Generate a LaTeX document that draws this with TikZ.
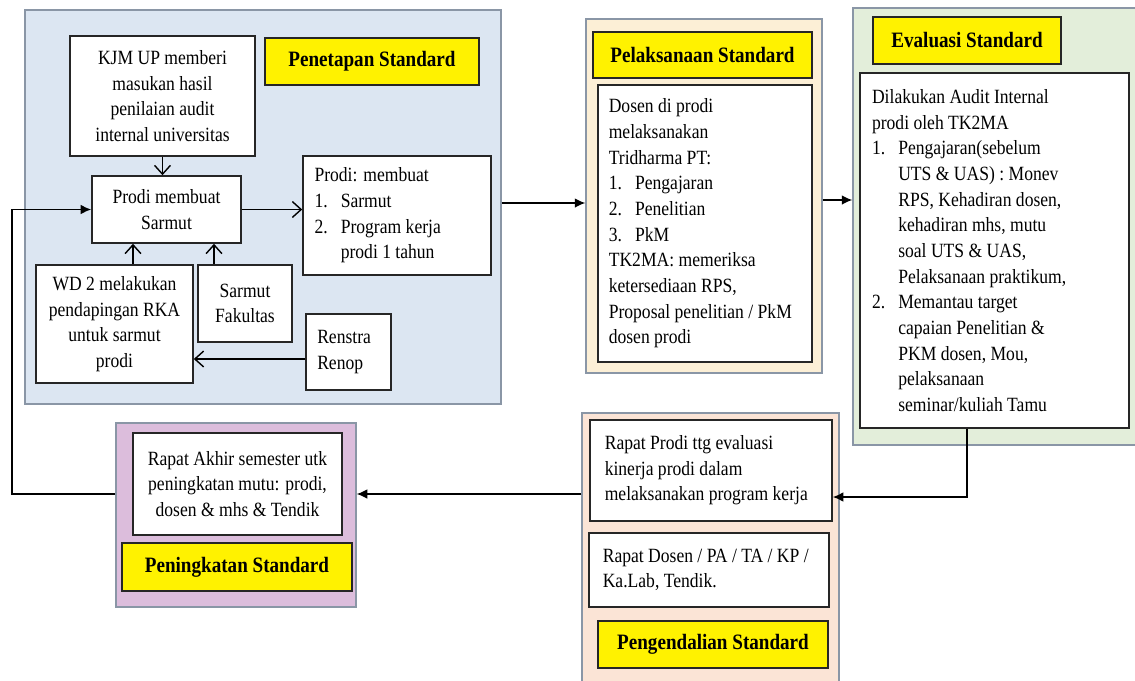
\documentclass[tikz,border=0pt]{standalone}
\usepackage{fontspec}
\setmainfont{Liberation Serif}[FakeStretch=0.87]
\usetikzlibrary{arrows.meta,calc}
\definecolor{pblue}{HTML}{DCE6F2}
\definecolor{pcream}{HTML}{FCEFD6}
\definecolor{pgreen}{HTML}{E3EEDA}
\definecolor{ppeach}{HTML}{FBE4D6}
\definecolor{ppurple}{HTML}{DCBDDC}
\definecolor{pborder}{HTML}{8A96A6}
\newcommand\lstnum[1]{\makebox[1.3em][l]{#1}}
\newcommand\lstind{\hspace*{1.3em}}
\begin{document}
\begin{tikzpicture}[x=0.02cm,y=-0.02cm,
  wh/.style 2 args={minimum width=#1*0.02cm, minimum height=#2*0.02cm},
  panel/.style={draw=pborder, line width=0.8pt, inner sep=0pt},
  box/.style={draw=black!85, fill=white, line width=0.9pt, inner sep=0pt, font=\fontsize{11.5}{14.6}\selectfont},
  cbox/.style={box, align=center},
  lbox/.style={box, align=flush left, inner xsep=6pt},
  title/.style={draw=black!85, fill=yellow, line width=0.9pt, inner sep=0pt, font=\fontsize{12.5}{15}\selectfont\bfseries},
  oarr/.style={line width=0.8pt, -{Straight Barb[length=5pt,width=9pt,line width=0.8pt]}},
  farr/.style={line width=0.8pt, -{Latex[length=6pt,width=5.5pt]}}]
\useasboundingbox (0,0) rectangle (1135,680);
\begin{scope}
\clip (0,0) rectangle (1135,680);
% panels
\node[panel, fill=pblue, wh={476}{394}] (Blue) at (263,207) {};
\node[panel, fill=pcream, wh={236}{354}] (Pel) at (704,196) {};
\node[panel, fill=pgreen, wh={292}{437}] (Green) at (999,226.5) {};
\node[panel, fill=ppeach, wh={257}{277}] (Peach) at (710.5,551.5) {};
\node[panel, fill=ppurple, wh={240}{184}] (Purple) at (236,515) {};
\end{scope}
% titles
\node[title, wh={214}{47}] (TPen) at (372,61.5) {Penetapan Standard};
\node[title, wh={219}{46}] (TPel) at (702.5,55) {Pelaksanaan Standard};
\node[title, wh={188}{47}] (TEva) at (967,40.5) {Evaluasi Standard};
\node[title, wh={230}{47}] (TPeng) at (713,644.5) {Pengendalian Standard};
\node[title, wh={230}{48}] (TPen2) at (237,567) {Peningkatan Standard};
% left panel boxes
\node[cbox, wh={185}{120}] (KJM) at (162.5,96) {KJM UP memberi\\masukan hasil\\penilaian audit\\internal universitas};
\node[cbox, wh={149}{67}] (ProdiS) at (166.5,209.5) {Prodi membuat\\Sarmut};
\node[lbox, wh={188}{119}, text width=3.3cm] (ProdiM) at (397,215.5) {Prodi: membuat\\\lstnum{1.}Sarmut\\\lstnum{2.}Program kerja\\\lstind prodi 1 tahun};
\node[cbox, wh={157}{118}] (WD) at (114.5,324) {WD 2 melakukan\\pendapingan RKA\\untuk sarmut\\prodi};
\node[cbox, wh={94}{77}] (SarFak) at (245,303.5) {Sarmut\\Fakultas};
\node[lbox, wh={85}{76}, text width=1.25cm] (Ren) at (348.5,352) {Renstra\\Renop};
% other boxes
\node[lbox, wh={214}{277}, text width=3.85cm] (Dosen) at (705,223.5) {Dosen di prodi\\melaksanakan\\Tridharma PT:\\\lstnum{1.}Pengajaran\\\lstnum{2.}Penelitian\\\lstnum{3.}PkM\\TK2MA: memeriksa\\ketersediaan RPS,\\Proposal penelitian / PkM\\dosen prodi};
\node[lbox, wh={269}{355}, text width=4.9cm] (Dil) at (994.5,250.5) {Dilakukan Audit Internal\\prodi oleh TK2MA\\\lstnum{1.}Pengajaran(sebelum\\\lstind UTS \& UAS) : Monev\\\lstind RPS, Kehadiran dosen,\\\lstind kehadiran mhs, mutu\\\lstind soal UTS \& UAS,\\\lstind Pelaksanaan praktikum,\\\lstnum{2.}Memantau target\\\lstind capaian Penelitian \&\\\lstind PKM dosen, Mou,\\\lstind pelaksanaan\\\lstind seminar/kuliah Tamu};
\node[lbox, wh={242}{101}, text width=4.25cm] (RProdi) at (711,470.5) {Rapat Prodi ttg evaluasi\\kinerja prodi dalam\\melaksanakan program kerja};
\node[lbox, wh={240}{74}, text width=4.25cm] (RDosen) at (709,570) {Rapat Dosen / PA / TA / KP /\\Ka.Lab, Tendik.};
\node[cbox, wh={209}{102}] (RAkhir) at (237.5,484) {Rapat Akhir semester utk\\peningkatan mutu: prodi,\\dosen \& mhs \& Tendik};
% helper coordinates
\coordinate (c1) at (133,0);
\coordinate (c2) at (214,0);
\coordinate (c3) at (0,359);
\coordinate (c4) at (0,203);
\coordinate (c5) at (0,200);
\coordinate (c6) at (967,497);
\coordinate (c7) at (0,494);
\coordinate (c8) at (12,494);
% connectors
\draw[oarr] (KJM.south) -- (KJM.south |- ProdiS.north);
\draw[oarr] (WD.north -| c1) -- (ProdiS.south -| c1);
\draw[oarr] (SarFak.north -| c2) -- (ProdiS.south -| c2);
\draw[oarr] (Ren.west |- c3) -- (WD.east |- c3);
\draw[oarr] (ProdiS.east) -- (ProdiS.east -| ProdiM.west);
\draw[farr] (Blue.east |- c4) -- (Pel.west |- c4);
\draw[farr] (Pel.east |- c5) -- (Green.west |- c5);
\draw[farr] (Dil.south -| c6) -- (c6) -- (RProdi.east |- c6);
\draw[farr] (Peach.west |- c7) -- (Purple.east |- c7);
\draw[farr] (Purple.west |- c7) -- (c8) |- (ProdiS.west);
\end{tikzpicture}
\end{document}
